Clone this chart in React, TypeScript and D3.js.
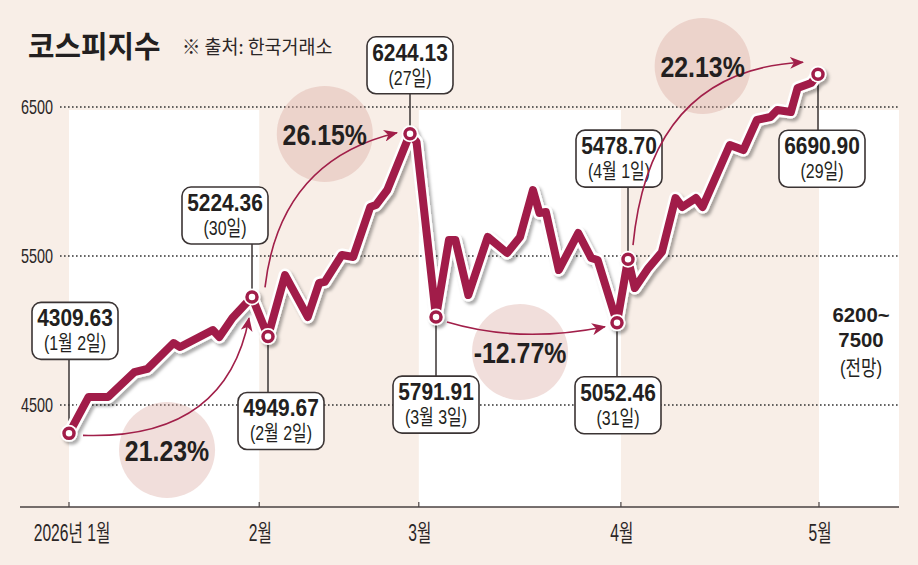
import React from 'react';
import * as d3 from 'd3';

const W = 918;
const H = 565;
const RED = '#a11f49';
const INK = '#231f20';
const BG = '#f8eee7';
const LATIN = "'Liberation Sans', Arial, 'Noto Sans CJK KR', sans-serif";

// 종가
const sessionDates = [
  '2026-01-02', '2026-01-05', '2026-01-08', '2026-01-12', '2026-01-14', '2026-01-18',
  '2026-01-19', '2026-01-24', '2026-01-25', '2026-01-27', '2026-01-30',
  '2026-02-02', '2026-02-05', '2026-02-09', '2026-02-11', '2026-02-12', '2026-02-15',
  '2026-02-17', '2026-02-20', '2026-02-21', '2026-02-23', '2026-02-27', '2026-02-28',
  '2026-03-03', '2026-03-05', '2026-03-06', '2026-03-08', '2026-03-11', '2026-03-14',
  '2026-03-16', '2026-03-18', '2026-03-19', '2026-03-20', '2026-03-22', '2026-03-25',
  '2026-03-27', '2026-03-28', '2026-03-31',
  '2026-04-01', '2026-04-02', '2026-04-04', '2026-04-06', '2026-04-08', '2026-04-09',
  '2026-04-11', '2026-04-12', '2026-04-16', '2026-04-18', '2026-04-20', '2026-04-22',
  '2026-04-23', '2026-04-25', '2026-04-26', '2026-04-28', '2026-04-29',
];
const closeValues = [
  4309.63, 4554, 4554, 4721, 4742, 4916, 4889, 5003, 4956, 5084, 5224.36,
  4960, 5372, 5091, 5319, 5326, 5507, 5493, 5829, 5842, 5943, 6320, 6265,
  5090, 5607, 5607, 5238, 5628, 5520, 5628, 5943, 5789, 5795, 5406, 5654, 5487, 5473, 5052.46,
  5478.7, 5285, 5419, 5527, 5889, 5829, 5889, 5829, 6245, 6211, 6413, 6433, 6480, 6466, 6628, 6661, 6720,
];

// x축은 구간별로 늘어난 시간축 (기준일과 그 위치)
const keyDates = ['2026-01-02', '2026-01-30', '2026-02-02', '2026-02-27', '2026-03-03', '2026-03-31', '2026-04-01', '2026-04-29'];
const keyX = [69, 252, 268, 410, 436, 617, 628, 818];

const monthTicks = ['2026-01-02T15:30', '2026-02-01T00:00', '2026-03-01T00:00', '2026-04-01T00:00', '2026-05-01T00:00'];
const monthLabels = ['2026년 1월', '2월', '3월', '4월', '5월'];
const yTicks = [4500, 5500, 6500];

const callouts = [
  { date: '2026-01-02', value: '4309.63', day: '(1월 2일)', dx: 6, dy: -131 },
  { date: '2026-01-30', value: '5224.36', day: '(30일)', dx: -27, dy: -110 },
  { date: '2026-02-02', value: '4949.67', day: '(2월 2일)', dx: 13, dy: 56 },
  { date: '2026-02-27', value: '6244.13', day: '(27일)', dx: 0, dy: -97 },
  { date: '2026-03-03', value: '5791.91', day: '(3월 3일)', dx: 0, dy: 59 },
  { date: '2026-03-31', value: '5052.46', day: '(31일)', dx: 1, dy: 54 },
  { date: '2026-04-01', value: '5478.70', day: '(4월 1일)', dx: -9, dy: -129 },
  { date: '2026-04-29', value: '6690.90', day: '(29일)', dx: 4, dy: 56 },
];

const changes = [
  { from: '2026-01-02', to: '2026-01-30', label: '21.23%', at: ['2026-01-17', 4198], s: [14, 2], e: [-3, 21], c: [0.86, -0.04] },
  { from: '2026-02-02', to: '2026-02-27', label: '26.15%', at: ['2026-02-12', 6319], s: [-3, -49], e: [-13, -1], c: [0.11, 0.82] },
  { from: '2026-03-03', to: '2026-03-31', label: '-12.77%', at: ['2026-03-16', 4856], s: [11, 5], e: [-12, 4], c: [0.46, 4.75] },
  { from: '2026-04-01', to: '2026-04-29', label: '22.13%', at: ['2026-04-12', 6775], s: [5, -14], e: [-15, -12], c: [0.1, 0.96] },
];

const forecast = ['6200~', '7500', '(전망)'];

const parse = d3.timeParse('%Y-%m-%dT%H:%M');
const sess = (d: string) => parse(d + 'T15:30') as Date;

const CText = ({ x, y, sx = 1, anchor = 'middle', size, weight = 'normal', fill = INK, family = LATIN, children }: any) => (
  <text
    transform={`translate(${x},${y}) scale(${sx},1)`}
    textAnchor={anchor}
    fontSize={size}
    fontWeight={weight}
    fill={fill}
    fontFamily={family}
  >
    {children}
  </text>
);

export default function App() {
  const right = 899;
  const axisY = 507;

  const x = d3.scaleTime()
    .domain([...keyDates.map(sess), parse('2026-05-01T00:00') as Date])
    .range([...keyX, 819]);
  const y = d3.scaleLinear().domain([4500, 6500]).range([405, 107]);

  const points = sessionDates.map((d, i) => ({ date: sess(d), value: closeValues[i] }));
  const valueOn = (d: string) => closeValues[sessionDates.indexOf(d)];
  const pos = (d: string) => [x(sess(d)), y(valueOn(d))];

  const line = d3.line<{ date: Date; value: number }>()
    .x(p => x(p.date))
    .y(p => y(p.value));
  const linePath = line(points) || '';

  const tickX = monthTicks.map(t => x(parse(t) as Date));
  const bands = [[tickX[0], tickX[1]], [tickX[2], tickX[3]], [tickX[4], right]];
  const bandTop = y(6500) + 3;

  const boxW = 86;
  const boxH = 57;

  return (
    <svg width={W} height={H} style={{ position: 'absolute', left: 0, top: 0, display: 'block' }}>
      <defs>
        <filter id="sh" x="-10%" y="-10%" width="120%" height="130%">
          <feDropShadow dx="2.5" dy="3" stdDeviation="1.8" floodColor="#000" floodOpacity="0.32" />
        </filter>
        <marker id="ah" viewBox="0 0 14 12" refX="13" refY="6" markerWidth="14" markerHeight="12"
          markerUnits="userSpaceOnUse" orient="auto">
          <path d="M0,0 L14,6 L0,12 L4,6 Z" fill={RED} />
        </marker>
      </defs>

      <rect width={W} height={H} fill={BG} />

      {/* 월별 흰 띠 */}
      {bands.map((b, i) => (
        <rect key={i} x={b[0]} y={bandTop} width={b[1] - b[0]} height={axisY - bandTop} fill="#fff" />
      ))}

      {/* 가로 점선과 y축 값 */}
      {yTicks.map(t => (
        <g key={t}>
          <line x1={60} x2={right} y1={y(t)} y2={y(t)} stroke="#333" strokeWidth={1.4} strokeDasharray="1.6 2.4" />
          <CText x={53} y={y(t) + 7} sx={0.72} anchor="end" size={20} fill="#2b2626">{t}</CText>
        </g>
      ))}

      {/* x축 */}
      <line x1={20} x2={right} y1={axisY} y2={axisY} stroke="#4a4242" strokeWidth={1.6} />
      {tickX.map((tx, i) => (
        <g key={i}>
          <line x1={tx} x2={tx} y1={axisY - 5} y2={axisY} stroke="#4a4242" strokeWidth={1.2} />
          <CText x={tx + (i === 0 ? 3 : 1)} y={541} sx={0.68} size={23} fill="#2b2626">{monthLabels[i]}</CText>
        </g>
      ))}

      {/* 제목 */}
      <CText x={28} y={57} sx={0.96} anchor="start" size={30} weight="bold" family="'Noto Sans CJK KR', sans-serif">코스피지수</CText>
      <CText x={182} y={54} sx={0.97} anchor="start" size={19} fill="#2b2626" family="'Noto Sans CJK KR', sans-serif">※ 출처: 한국거래소</CText>

      {/* 등락률 원 */}
      {changes.map(c => (
        <circle key={c.label} cx={x(sess(c.at[0] as string))} cy={y(c.at[1] as number)} r={48}
          fill="rgb(215,161,152)" fillOpacity={0.35} />
      ))}

      {/* 설명 상자 */}
      {callouts.map(c => {
        const [mx, my] = pos(c.date);
        const top = my + c.dy;
        const cx = mx + c.dx;
        const edge = c.dy < 0 ? top + boxH : top;
        return (
          <g key={c.date}>
            <line x1={mx} x2={mx} y1={my} y2={edge} stroke="#3b3434" strokeWidth={1.5} />
            <rect x={cx - boxW / 2} y={top} width={boxW} height={boxH} rx={9} fill="#fff" stroke="#3b3434" strokeWidth={1.6} />
            <CText x={cx} y={top + 24} sx={0.91} size={23} weight="bold">{c.value}</CText>
            <CText x={cx} y={top + 48} sx={0.76} size={21}>{c.day}</CText>
          </g>
        );
      })}

      {/* 지수 선 */}
      <g filter="url(#sh)">
        <path d={linePath} fill="none" stroke="#fff" strokeWidth={13} strokeLinejoin="round" strokeLinecap="round" />
        <path d={linePath} fill="none" stroke={RED} strokeWidth={8} strokeLinejoin="round" strokeLinecap="round" />
        {callouts.map(c => {
          const [mx, my] = pos(c.date);
          return (
            <g key={c.date}>
              <circle cx={mx} cy={my} r={8.5} fill="#fff" />
              <circle cx={mx} cy={my} r={5} fill="#fff" stroke={RED} strokeWidth={3.5} />
            </g>
          );
        })}
      </g>

      {/* 화살표 */}
      {changes.map(c => {
        const [ax, ay] = pos(c.from);
        const [bx, by] = pos(c.to);
        const sx = ax + c.s[0], sy = ay + c.s[1];
        const ex = bx + c.e[0], ey = by + c.e[1];
        const p = d3.path();
        p.moveTo(sx, sy);
        p.quadraticCurveTo(sx + (ex - sx) * c.c[0], sy + (ey - sy) * c.c[1], ex, ey);
        return <path key={c.label} d={p.toString()} fill="none" stroke={RED} strokeWidth={1.6} markerEnd="url(#ah)" />;
      })}

      {/* 등락률 글자 */}
      {changes.map(c => (
        <CText key={c.label} x={x(sess(c.at[0] as string))} y={y(c.at[1] as number) + 11} sx={0.83} size={30} weight="bold">
          {c.label}
        </CText>
      ))}

      {/* 전망 */}
      <CText x={861} y={322} sx={0.97} size={21} weight="bold">{forecast[0]}</CText>
      <CText x={861} y={347} sx={0.97} size={21} weight="bold">{forecast[1]}</CText>
      <CText x={861} y={375} sx={0.8} size={21}>{forecast[2]}</CText>
    </svg>
  );
}
